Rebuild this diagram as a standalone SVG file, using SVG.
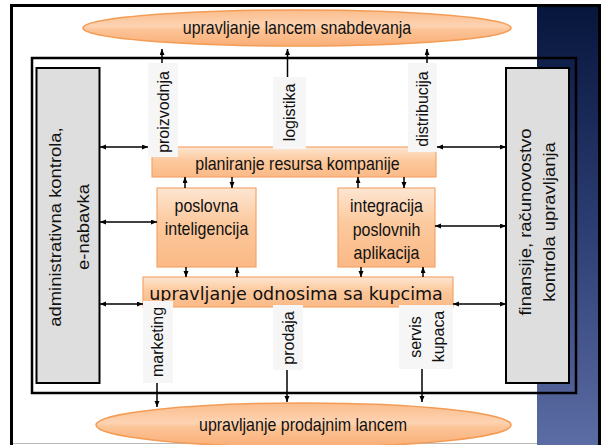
<svg xmlns="http://www.w3.org/2000/svg" width="604" height="445" viewBox="0 0 604 445">
<defs>
<style>
.t{font-family:"Liberation Sans",Arial,sans-serif;font-size:16px;fill:#111;text-anchor:middle}
.r{font-family:"Liberation Sans",Arial,sans-serif;font-size:17px;fill:#111;text-anchor:middle}
.g{font-family:"Liberation Sans",Arial,sans-serif;font-size:16px;fill:#111;text-anchor:middle}
.box{fill:url(#og);stroke:#f4a66c;stroke-width:1.2}
.ell{fill:url(#eg);stroke:#f39c55;stroke-width:1.5}
.gray{fill:#dedede;stroke:#000;stroke-width:2}
.lab{fill:#f6f6f6}
.ln{stroke:#000;stroke-width:1.5;fill:none}
.a1{marker-end:url(#ah)}
.a2{marker-start:url(#ah);marker-end:url(#ah)}
</style>
<linearGradient id="og" x1="0" y1="0" x2="0" y2="1">
<stop offset="0" stop-color="#fde6d2"/>
<stop offset="0.45" stop-color="#fcc99d"/>
<stop offset="1" stop-color="#fbb986"/>
</linearGradient>
<linearGradient id="eg" x1="0" y1="0" x2="0" y2="1">
<stop offset="0" stop-color="#fbbd8c"/>
<stop offset="0.45" stop-color="#fdd3b2"/>
<stop offset="0.55" stop-color="#fcc497"/>
<stop offset="1" stop-color="#faae76"/>
</linearGradient>
<linearGradient id="nv" x1="0" y1="0" x2="0" y2="1">
<stop offset="0" stop-color="#07163c"/>
<stop offset="0.5" stop-color="#2c3d72"/>
<stop offset="1" stop-color="#5c6ca4"/>
</linearGradient>
<marker id="ah" markerUnits="userSpaceOnUse" markerWidth="7" markerHeight="6" refX="6" refY="2.5" orient="auto-start-reverse">
<path d="M0,0 L6,2.5 L0,5 z" fill="#000"/>
</marker>
</defs>

<g id="background">
<rect x="0" y="0" width="604" height="445" fill="#ffffff"/>
<rect x="537" y="7" width="62" height="438" fill="url(#nv)"/>
<line x1="13" y1="443.5" x2="537" y2="443.5" stroke="#bbbbbb" stroke-width="1"/>
<rect x="11.5" y="5.5" width="588" height="460" fill="none" stroke="#000" stroke-width="3"/>
<rect x="32" y="58" width="544" height="335" fill="none" stroke="#000" stroke-width="2.5"/>
</g>

<g id="scm">
<ellipse class="ell" cx="297" cy="28" rx="214" ry="18"/>
<text class="t" transform="translate(297,34) scale(1,1.15)">upravljanje lancem snabdevanja</text>
</g>

<g id="sales">
<ellipse class="ell" cx="303.5" cy="425" rx="207.5" ry="22"/>
<text class="t" transform="translate(303,431) scale(1,1.15)">upravljanje prodajnim lancem</text>
</g>

<g id="admin">
<rect class="gray" x="36.5" y="68" width="63" height="315"/>
<text class="g" transform="translate(61,227) rotate(-90) scale(1.15,1)">administrativna kontrola,</text>
<text class="g" transform="translate(89,227) rotate(-90) scale(1.15,1)">e-nabavka</text>
</g>

<g id="finance">
<rect class="gray" x="506" y="68" width="63" height="315"/>
<text class="g" transform="translate(531,222) rotate(-90) scale(1.15,1)">finansije, računovostvo</text>
<text class="g" transform="translate(555,222) rotate(-90) scale(1.15,1)">kontrola upravljanja</text>
</g>

<g id="erp">
<rect class="box" x="152" y="147" width="284" height="30"/>
<text class="t" transform="translate(297.5,169.5) scale(1,1.15)">planiranje resursa kompanije</text>
</g>

<g id="bi">
<rect class="box" x="157" y="188" width="99" height="79"/>
<text class="t" transform="translate(206.5,212) scale(1,1.15)">poslovna</text>
<text class="t" transform="translate(206.5,235) scale(1,1.15)">inteligencija</text>
</g>

<g id="eai">
<rect class="box" x="338" y="188" width="97" height="79"/>
<text class="t" transform="translate(386.5,212) scale(1,1.15)">integracija</text>
<text class="t" transform="translate(386.5,235.5) scale(1,1.15)">poslovnih</text>
<text class="t" transform="translate(386.5,259) scale(1,1.15)">aplikacija</text>
</g>

<g id="crm">
<rect class="box" x="143" y="277" width="310" height="30"/>
<text x="296" y="299.5" style="font-family:'DejaVu Sans',Verdana,sans-serif;font-size:17.5px;fill:#111;text-anchor:middle">upravljanje odnosima sa kupcima</text>
</g>

<g id="lab-proizvodnja">
<rect class="lab" x="148" y="63" width="30" height="94"/>
<text class="r" transform="translate(169,112) rotate(-90) scale(0.94,1)">proizvodnja</text>
</g>
<g id="lab-logistika">
<rect class="lab" x="273" y="77" width="33" height="72"/>
<text class="r" transform="translate(295,112.5) rotate(-90) scale(0.94,1)">logistika</text>
</g>
<g id="lab-distribucija">
<rect class="lab" x="408" y="63" width="29" height="89"/>
<text class="r" transform="translate(428,109) rotate(-90) scale(0.94,1)">distribucija</text>
</g>
<g id="lab-marketing">
<rect class="lab" x="143" y="301" width="30" height="82"/>
<text class="r" transform="translate(163,342) rotate(-90) scale(0.94,1)">marketing</text>
</g>
<g id="lab-prodaja">
<rect class="lab" x="273" y="305" width="30" height="65"/>
<text class="r" transform="translate(294,338) rotate(-90) scale(0.94,1)">prodaja</text>
</g>
<g id="lab-servis">
<rect class="lab" x="399" y="305" width="54" height="64"/>
<text class="r" transform="translate(421,337) rotate(-90) scale(0.94,1)">servis</text>
<text class="r" transform="translate(444,336.5) rotate(-90) scale(0.94,1)">kupaca</text>
</g>

<g id="connectors">
<path class="ln a1" d="M162,63 V49"/>
<path class="ln a1" d="M287.5,77 V49"/>
<path class="ln a1" d="M427,63 V49"/>
<path class="ln a2" d="M100,147 H148"/>
<path class="ln a2" d="M100,222 H157"/>
<path class="ln a2" d="M100,304 H143"/>
<path class="ln a2" d="M437,147 H506"/>
<path class="ln a2" d="M435,226 H506"/>
<path class="ln a2" d="M453,304 H506"/>
<path class="ln a1" d="M185,188 V177"/>
<path class="ln a1" d="M232,177 V188"/>
<path class="ln a1" d="M358,188 V177"/>
<path class="ln a1" d="M404,177 V188"/>
<path class="ln a1" d="M186,267 V277"/>
<path class="ln a1" d="M237,277 V267"/>
<path class="ln a1" d="M361,267 V277"/>
<path class="ln a1" d="M423,277 V267"/>
<path class="ln a1" d="M157,383 V407"/>
<path class="ln a1" d="M287,370 V402"/>
<path class="ln a1" d="M422,369 V402"/>
</g>
</svg>
